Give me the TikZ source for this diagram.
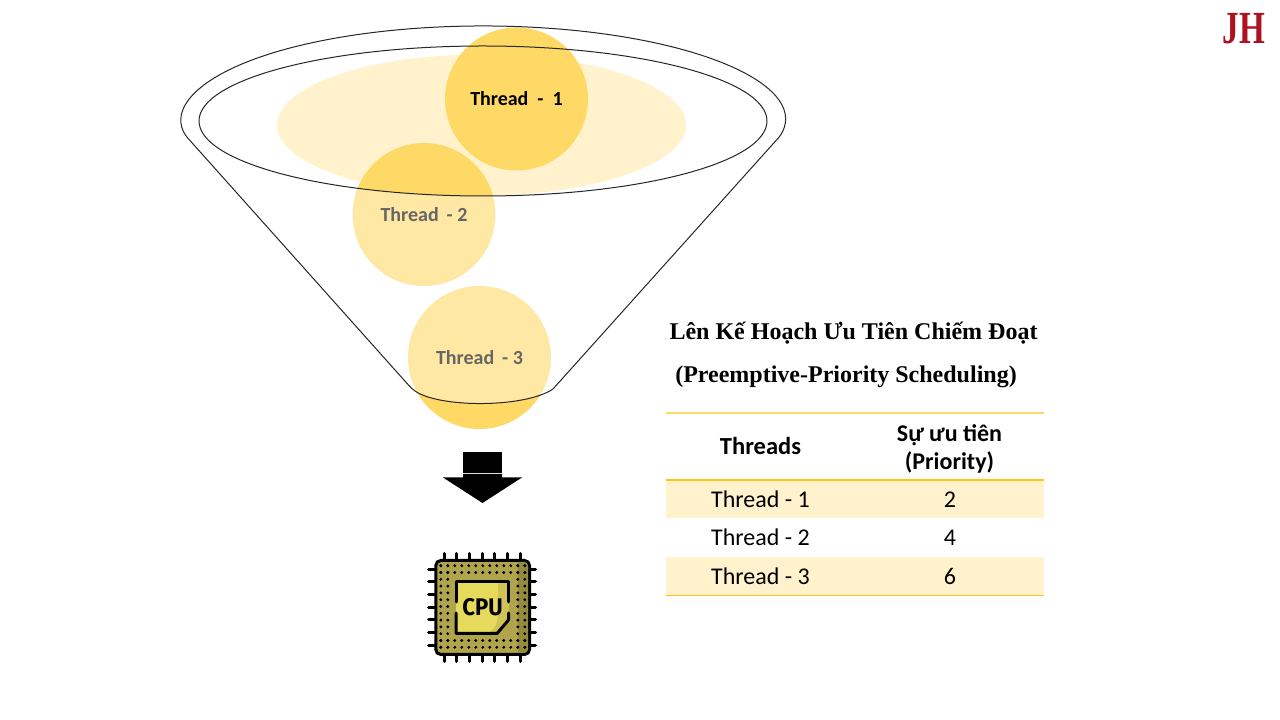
\documentclass[tikz,border=0pt]{standalone}
\usepackage{fontspec}
\setmainfont{Carlito}
\newfontfamily\titlefont{Liberation Serif}
\newfontfamily\chipfont{Fira Sans}
\usetikzlibrary{shapes.geometric}
\definecolor{goldA}{HTML}{FFD966}
\definecolor{goldB}{HTML}{FFF2CC}
\definecolor{goldC}{HTML}{FFC000}
\definecolor{logored}{HTML}{AE1120}
\definecolor{cpubody}{HTML}{B0A44C}
\definecolor{cpushade}{HTML}{958A3E}
\definecolor{cpuchip}{HTML}{E6DA5C}
\definecolor{cpuside}{HTML}{CFC355}
\tikzset{
  threadball/.style={circle, fill=goldA, minimum size=143pt, inner sep=0pt, font=\fontsize{20}{22}\selectfont\bfseries},
  funnelline/.style={draw=black!85, line width=1pt},
  celltext/.style={font=\fontsize{24}{26}\selectfont, inner sep=0pt},
  headtext/.style={font=\fontsize{24}{28}\selectfont, inner sep=0pt, align=center},
  titletext/.style={font=\titlefont\fontsize{24}{26}\selectfont\bfseries, inner sep=0pt},
  cpupin/.style={line width=3pt, line cap=round},
  chipedge/.style={line width=3pt, line join=round, line cap=round}
}
\begin{document}
\begin{tikzpicture}[x=1pt,y=1pt]
    \useasboundingbox (0,0) rectangle (1280,720);
    % funnel content
    \node[ellipse, fill=goldB, minimum width=409pt, minimum height=141pt, inner sep=0pt] (pool) at (481.5,595) {};
    \node[threadball] (threadA) at (516.5,621) {Thread\hspace{9pt}-\hspace{9pt}1};
    \node[threadball] (threadB) at (424,505.5) {Thread\, - 2};
    \node[threadball] (threadC) at (479.5,362.5) {Thread\, - 3};
    \coordinate (fl) at (185.5,585);
    \coordinate (fr) at (781,585);
    \coordinate (bl) at (412,331);
    \coordinate (br) at (553,331);
    % veil over the lower part of the funnel
    \fill[white, opacity=0.4] (fl) -- (bl) .. controls (440,312) and (525,312) .. (br) -- (fr)
      -- (767,599) arc[start angle=360, end angle=180, x radius=284, y radius=75] -- cycle;
    % funnel outline
    \node[ellipse, funnelline, minimum width=568pt, minimum height=150pt, inner sep=0pt] (mouth) at (483,599) {};
    \draw[funnelline, rounded corners=4pt] (br) -- (fr) arc[start angle=-8.5, end angle=188.5, x radius=301.3, y radius=95]
      -- (bl) .. controls (440,312) and (525,312) .. (br);
    % arrow
    \fill (463,268) rectangle (502,247);
    \fill (463,246) -- (502,246) -- (502,242.5) -- (522,242.5) -- (482.5,217) -- (443,242.5) -- (463,242.5) -- cycle;
    % cpu
    \foreach \i in {0,...,6} {
      \draw[cpupin] (444.3+12.67*\i,166.5) -- (444.3+12.67*\i,158);
      \draw[cpupin] (444.3+12.67*\i,58.5) -- (444.3+12.67*\i,68);
      \draw[cpupin] (428.5,150.7-12.67*\i) -- (438,150.7-12.67*\i);
      \draw[cpupin] (535.5,150.7-12.67*\i) -- (527,150.7-12.67*\i);
    }
    \filldraw[fill=cpubody, line width=3pt, rounded corners=5pt] (435.8,159.5) rectangle (529.5,65.5);
    \fill[cpushade] (518,158) -- (524,158) [rounded corners=4pt] -- (528,158) -- (528,67) [sharp corners] -- (518,67) -- cycle;
    \foreach \i in {0,...,12} {
      \foreach \j in {0,1,11,12} {
        \fill (440.8+7*\i,154.3-6.8*\j) circle (1.6pt);
        \fill (440.8+7*\j,154.3-6.8*\i) circle (1.6pt);
      }
    }
    \fill[cpuchip] (456,138.5) -- (508.5,138.5) -- (508.5,100) -- (497,86.5) -- (456,86.5) -- cycle;
    \fill[cpuside] (498,138.5) -- (508.5,138.5) -- (508.5,100) -- (497,86.5) -- (486,86.5) .. controls (494,89) and (498,95) .. (498,108) -- cycle;
    \draw[chipedge] (456,118) -- (456,138.5) -- (508.5,138.5) -- (508.5,118);
    \draw[chipedge] (456,107) -- (456,86.5) -- (497,86.5) -- (508.5,100) -- (508.5,107);
    \node[inner sep=0pt, font=\chipfont\fontsize{24}{26}\selectfont\bfseries, xscale=0.92] (cpulabel) at (482.5,113) {CPU};
    % logo
    \node[inner sep=0pt, text=logored, font=\titlefont\fontsize{46}{48}\selectfont\bfseries, xscale=0.72] (logo) at (1244,691) {JH};
    % title
    \node[titletext] (titleA) at (853.5,387) {Lên Kế Hoạch Ưu Tiên Chiếm Đoạt};
    \node[titletext] (titleB) at (846,343.5) {(Preemptive-Priority Scheduling)};
    % table
    \fill[goldB] (666,239.5) rectangle (1044,202);
    \fill[goldB] (666,163) rectangle (1044,125);
    \draw[goldA, line width=1.2pt] (666,307) -- (1044,307);
    \draw[goldC!80!goldA, line width=1.2pt] (666,240) -- (1044,240);
    \draw[goldC!80!goldA, line width=1pt] (666,124.5) -- (1044,124.5);
    \node[headtext, font=\fontsize{24.5}{28}\selectfont\bfseries] (headA) at (760.5,274) {Threads};
    \node[headtext] (headB) at (949.5,271.5) {\textbf{Sự ưu tiên}\\\textbf{(Priority)}};
    \node[celltext] (rowA) at (760.5,221) {Thread - 1};
    \node[celltext] (rowB) at (760.5,183) {Thread - 2};
    \node[celltext] (rowC) at (760.5,144) {Thread - 3};
    \node[celltext] (valA) at (950,220.5) {2};
    \node[celltext] (valB) at (950,182.5) {4};
    \node[celltext] (valC) at (950,143.5) {6};
\end{tikzpicture}
\end{document}
